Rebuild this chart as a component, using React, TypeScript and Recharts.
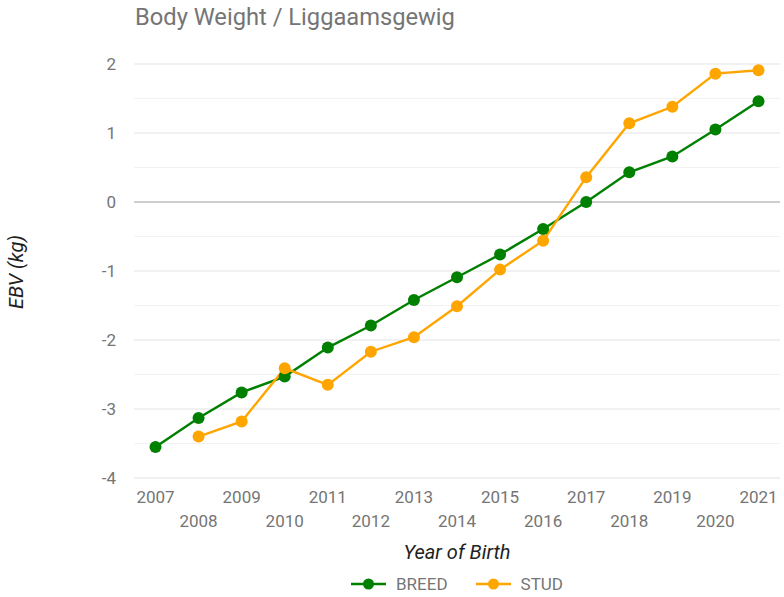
import React from 'react';
import { LineChart, Line, XAxis, YAxis, ReferenceLine } from 'recharts';

const years = ['2007','2008','2009','2010','2011','2012','2013','2014','2015','2016','2017','2018','2019','2020','2021'];
const breed = [-3.55,-3.13,-2.76,-2.53,-2.11,-1.79,-1.42,-1.09,-0.76,-0.39,0.0,0.43,0.66,1.05,1.46];
const stud = [null,-3.40,-3.18,-2.41,-2.65,-2.17,-1.96,-1.51,-0.98,-0.56,0.36,1.14,1.38,1.86,1.91];
const yTicks = [-4,-3,-2,-1,0,1,2];
const majorGrid = [-4,-3,-2,-1,1,2];
const minorGrid = [-3.5,-2.5,-1.5,-0.5,0.5,1.5];
const zeroLine = 0;

const series = [
  { key: 'breed', name: 'BREED', color: '#008000' },
  { key: 'stud', name: 'STUD', color: '#FFA500' },
];

const data = years.map((y, i) => ({ year: y, breed: breed[i], stud: stud[i] }));

const FONT = 'Roboto, "Noto Sans", sans-serif';

const XTick = (props: any) => {
  const { x, y, payload, index } = props;
  const row = index % 2 === 0 ? 19 : 43;
  return (
    <text x={x} y={y + row} textAnchor="middle" dominantBaseline="central" fill="#757575" fontSize={17} fontFamily={FONT}>
      {payload.value}
    </text>
  );
};

export default function App() {
  return (
    <div style={{ position: 'absolute', left: 0, top: 0, width: 784, height: 597, background: '#fff' }}>
      <div style={{ position: 'absolute', left: 135, top: 6, fontSize: 23.7, lineHeight: 1, color: '#757575', fontFamily: FONT, whiteSpace: 'nowrap' }}>
        Body Weight / Liggaamsgewig
      </div>
      <LineChart width={784} height={597} data={data} margin={{ top: 64, right: 4, bottom: 0, left: 0 }}>
        {minorGrid.map(v => (
          <ReferenceLine key={'mi' + v} y={v} stroke="#f2f2f2" strokeWidth={1} />
        ))}
        {majorGrid.map(v => (
          <ReferenceLine key={'ma' + v} y={v} stroke="#e3e3e3" strokeWidth={1} />
        ))}
        <ReferenceLine y={zeroLine} stroke="#9e9e9e" strokeWidth={1} />
        <XAxis
          dataKey="year"
          height={119}
          padding={{ left: 21.5, right: 21.5 }}
          axisLine={false}
          tickLine={false}
          tickSize={0}
          tickMargin={0}
          interval={0}
          tick={<XTick />}
          label={(p: any) => {
            const vb = p.viewBox;
            return (
              <text x={vb.x + vb.width / 2} y={vb.y + 74} textAnchor="middle" dominantBaseline="central" fontStyle="italic" fill="#222" fontSize={20} fontFamily={FONT}>
                Year of Birth
              </text>
            );
          }}
        />
        <YAxis
          width={134}
          domain={[-4, 2]}
          ticks={yTicks}
          axisLine={false}
          tickLine={false}
          tickSize={0}
          tickMargin={18}
          tick={{ fill: '#757575', fontSize: 17, fontFamily: FONT }}
          label={() => (
            <text x={16} y={272} transform="rotate(-90 16 272)" textAnchor="middle" dominantBaseline="central" fontStyle="italic" fill="#222" fontSize={20} fontFamily={FONT}>
              EBV (kg)
            </text>
          )}
        />
        {series.map(s => (
          <Line
            key={s.key}
            dataKey={s.key}
            name={s.name}
            stroke={s.color}
            strokeWidth={2.4}
            dot={{ r: 6, fill: s.color, stroke: 'none' }}
            isAnimationActive={false}
          />
        ))}
      </LineChart>
      <div style={{ position: 'absolute', left: 134, width: 646, top: 574, height: 20, display: 'flex', justifyContent: 'center', alignItems: 'center', gap: 28, fontFamily: FONT, fontSize: 17, color: '#757575' }}>
        {series.map(s => (
          <div key={s.key} style={{ display: 'flex', alignItems: 'center' }}>
            <svg width={35} height={12} style={{ display: 'block' }}>
              <line x1={0} y1={6} x2={35} y2={6} stroke={s.color} strokeWidth={2.4} />
              <circle cx={17.5} cy={6} r={5.5} fill={s.color} />
            </svg>
            <span style={{ marginLeft: 10, lineHeight: 1 }}>{s.name}</span>
          </div>
        ))}
      </div>
    </div>
  );
}
